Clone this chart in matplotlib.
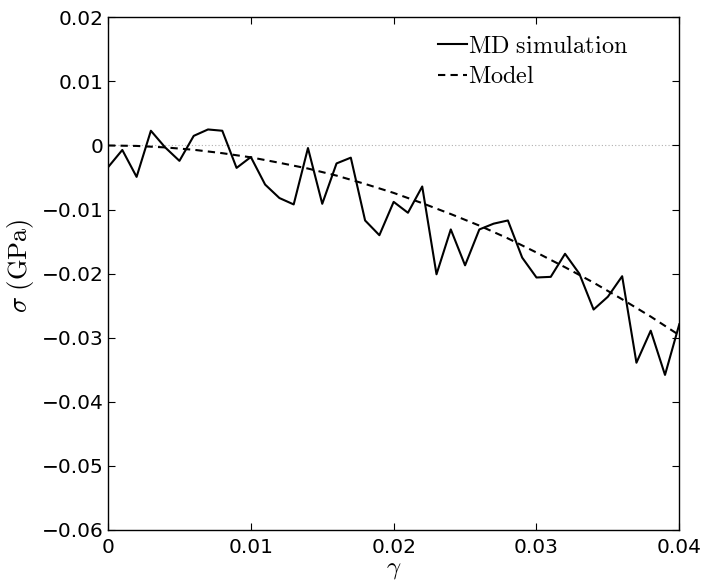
import matplotlib
matplotlib.use("Agg")
import matplotlib.pyplot as plt
import numpy as np

plt.rcParams['mathtext.fontset'] = 'cm'
plt.rcParams['font.family'] = ['DejaVu Sans']

# MD simulation data (gamma step 0.001 from 0 to 0.04)
md_gamma = [i * 0.001 for i in range(41)]
md_sigma = [-0.0034, -0.0007, -0.0049, 0.0023, -0.0003, -0.0024, 0.0015, 0.0025,
            0.0023, -0.0035, -0.0018, -0.0061, -0.0082, -0.0092, -0.0004, -0.0091,
            -0.0028, -0.0019, -0.0117, -0.0140, -0.0088, -0.0105, -0.0064, -0.0201,
            -0.0131, -0.0187, -0.0131, -0.0122, -0.0117, -0.0175, -0.0206, -0.0205,
            -0.0169, -0.0200, -0.0256, -0.0236, -0.0204, -0.0339, -0.0289, -0.0358,
            -0.0279]

# Model curve
model_gamma = [0.0, 0.002, 0.004, 0.006, 0.008, 0.010, 0.012, 0.014, 0.016, 0.018,
               0.020, 0.022, 0.024, 0.026, 0.028, 0.030, 0.032, 0.034, 0.036, 0.038, 0.040]
model_sigma = [0.0, -0.00007, -0.0003, -0.00067, -0.0012, -0.00185, -0.0027, -0.0036,
               -0.0047, -0.0060, -0.0074, -0.0090, -0.0107, -0.0125, -0.0145, -0.0167,
               -0.0190, -0.0214, -0.0240, -0.0267, -0.0296]

xticks = [0, 0.01, 0.02, 0.03, 0.04]
xticklabels = ['0', '0.01', '0.02', '0.03', '0.04']
yticks = [-0.06, -0.05, -0.04, -0.03, -0.02, -0.01, 0, 0.01, 0.02]
yticklabels = ['\u22120.06', '\u22120.05', '\u22120.04', '\u22120.03', '\u22120.02',
               '\u22120.01', '0', '0.01', '0.02']

fig = plt.figure(figsize=(7.07, 5.81), dpi=100)
ax = fig.add_axes([0.1528, 0.0878, 0.8080, 0.8824])

ax.plot([0, 0.04], [0, 0], linestyle=(0, (1, 2)), color='#b0b0b0', lw=0.8, zorder=1)
ax.plot(md_gamma, md_sigma, '-', color='black', lw=1.5, label=r'$\mathrm{MD\ simulation}$', zorder=3)
ax.plot(model_gamma, model_sigma, '--', color='black', lw=1.5, dashes=(3.5, 2.5),
        label=r'$\mathrm{Model}$', zorder=2)

ax.set_xlim(0, 0.04)
ax.set_ylim(-0.06, 0.02)
ax.set_xticks(xticks)
ax.set_xticklabels(xticklabels)
ax.set_yticks(yticks)
ax.set_yticklabels(yticklabels)
ax.tick_params(direction='in', length=5, width=0.8, top=True, right=True,
               labelsize=14.5)
ax.tick_params(axis='x', pad=6)
ax.tick_params(axis='y', pad=3)
for s in ax.spines.values():
    s.set_linewidth(1.0)

ax.set_xlabel(r'$\gamma$', fontsize=18)
ax.xaxis.set_label_coords(0.5, -0.052)
ax.set_ylabel(r'$\sigma\ (\mathrm{GPa})$', fontsize=19)
ax.yaxis.set_label_coords(-0.126, 0.515)

leg = ax.legend(loc='upper left', frameon=False, fontsize=17.5, handlelength=1.2,
                handletextpad=0.05, borderpad=0, borderaxespad=0, labelspacing=0.25,
                bbox_to_anchor=(438 / 707, 1 - 34 / 581), bbox_transform=fig.transFigure)

fig.savefig('out.png', dpi=100)
